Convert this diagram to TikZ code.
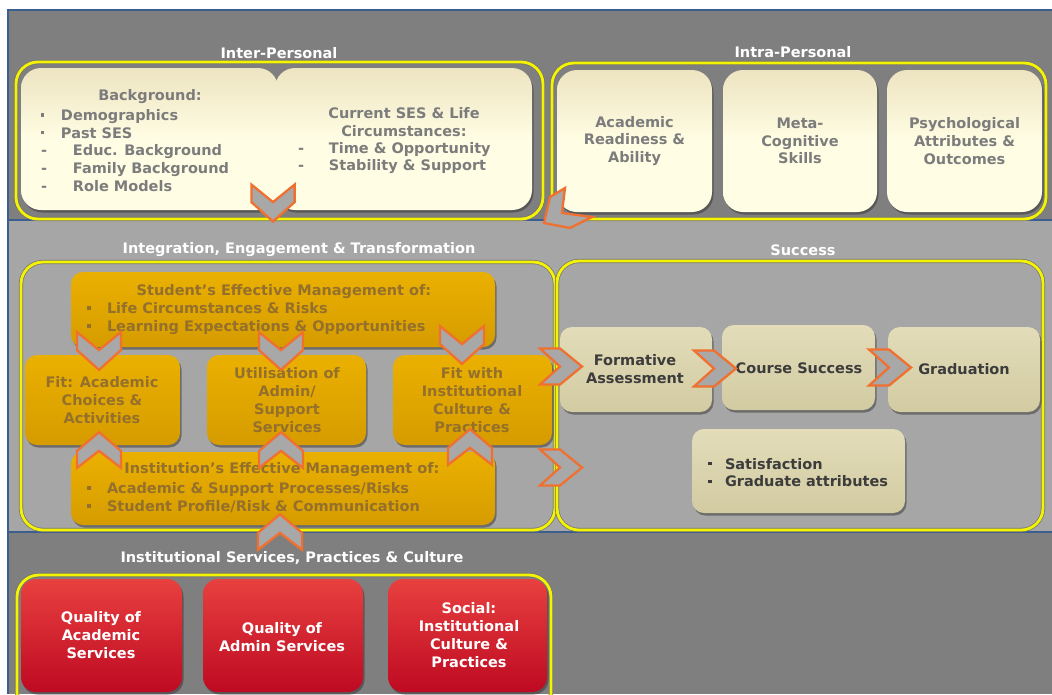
\documentclass[tikz,border=0pt]{standalone}
\usepackage{fontspec}
\setmainfont{DejaVu Sans}
\usetikzlibrary{shadows,calc}
\definecolor{bandD}{HTML}{7F7F7F}
\definecolor{bandL}{HTML}{A6A6A6}
\definecolor{bluel}{HTML}{3A5F8E}
\definecolor{ylw}{HTML}{F4F400}
\definecolor{creamT}{HTML}{EDE4C0}
\definecolor{creamB}{HTML}{FFFDE4}
\definecolor{creamTxt}{HTML}{7C7C7C}
\definecolor{goldT}{HTML}{EAB000}
\definecolor{goldB}{HTML}{D69C00}
\definecolor{goldTxt}{HTML}{94702C}
\definecolor{tanT}{HTML}{E2DCB9}
\definecolor{tanB}{HTML}{D2CBA2}
\definecolor{tanTxt}{HTML}{3C3C3C}
\definecolor{redT}{HTML}{E8403F}
\definecolor{redB}{HTML}{BE0A22}
\definecolor{chevO}{HTML}{F07030}
\definecolor{chevF}{HTML}{A8A8A8}
\newcommand\bul{\raisebox{0.25em}{\rule{3.5pt}{3.5pt}}}
\tikzset{
  every node/.style={inner sep=0pt, outer sep=0pt},
  txt/.style={font=\fontsize{14.5}{17.8}\selectfont\bfseries, align=center},
  ltxt/.style={font=\fontsize{14.5}{17.8}\selectfont\bfseries, align=left, anchor=west},
  ttl/.style={font=\fontsize{14.5}{16}\selectfont\bfseries, text=white},
  shadowed/.style={drop shadow={shadow xshift=1.5pt, shadow yshift=-2.5pt, opacity=0.5, fill=black!80}},
  box/.style={anchor=north west, shadowed},
  creambox/.style={box, rounded corners=20pt, top color=creamT, bottom color=creamB, middle color=creamB},
  goldbox/.style={box, rounded corners=12pt, top color=goldT, bottom color=goldB},
  tanbox/.style={box, rounded corners=12pt, top color=tanT, bottom color=tanB},
  redbox/.style={box, rounded corners=15pt, top color=redT, bottom color=redB},
  cont/.style={anchor=north west, draw=black!55, double=ylw, double distance=2.8pt, line width=0.7pt, rounded corners=22pt},
  chevline/.style={draw=chevO, fill=chevF, line width=2.3pt, line join=miter},
  chev/.pic={\path[chevline]
     (-21,-18) -- (-1,-18) -- (21,0) -- (-1,18) -- (-21,18) -- (-1,0) -- cycle;}
}
\begin{document}
\begin{tikzpicture}[x=1pt,y=-1pt]
\useasboundingbox (0,0) rectangle (1052,694);
\fill[white] (0,0) rectangle (1052,694);
% bands
\fill[bandD] (8,10) rectangle (1052,220);
\fill[bandL] (8,220) rectangle (1052,532);
\fill[bandD] (8,532) rectangle (1052,694);
\draw[bluel, line width=2pt] (8,694) -- (8,10) -- (1052,10);
\draw[bluel, line width=2pt] (8,220) -- (1052,220);
\draw[bluel, line width=2pt] (8,532) -- (1052,532);

% titles
\node[ttl] (tInter) at (279,53) {Inter-Personal};
\node[ttl] (tIntra) at (793,52) {Intra-Personal};
\node[ttl] (tInteg) at (299,250) {Integration, Engagement \& Transformation};
\node[ttl] (tSucc) at (803,250) {Success};
\node[ttl] (tInst) at (292,558) {Institutional Services, Practices \& Culture};

% containers
\node[cont, minimum width=527, minimum height=157] (cInter) at (16,62) {};
\node[cont, minimum width=494, minimum height=156] (cIntra) at (552,63) {};
\node[cont, minimum width=534, minimum height=268] (cInteg) at (21,262) {};
\node[cont, minimum width=486, minimum height=269] (cSucc) at (557,261) {};
\node[cont, minimum width=534, minimum height=140] (cInst) at (17,575) {};

% inter-personal
\node[creambox, minimum width=257, minimum height=142] (bg) at (21,68) {};
\node[creambox, minimum width=257, minimum height=142] (ses) at (275,68) {};
\node[txt, text=creamTxt] (bgT) at (150,97) {Background:};
\node[ltxt, text=creamTxt] (bgL) at (41,150.5) {%
\makebox[20pt][l]{\bul}Demographics\\
\makebox[20pt][l]{\bul}Past SES\\
\makebox[32pt][l]{-}Educ. Background\\
\makebox[32pt][l]{-}Family Background\\
\makebox[32pt][l]{-}Role Models};
\node[txt, text=creamTxt] (sesT) at (404,122) {Current SES \& Life\\Circumstances:};
\node[ltxt, text=creamTxt] (sesL) at (298,158) {%
\makebox[31pt][l]{-}Time \& Opportunity\\
\makebox[31pt][l]{-}Stability \& Support};

% intra-personal
\node[creambox, minimum width=155, minimum height=142] (ar) at (557,70) {};
\node[creambox, minimum width=154, minimum height=142] (mc) at (723,70) {};
\node[creambox, minimum width=155, minimum height=142] (ps) at (887,70) {};
\node[txt, text=creamTxt] (arT) at (ar.center) {Academic\\Readiness \&\\Ability};
\node[txt, text=creamTxt] (mcT) at (mc.center) {Meta-\\Cognitive\\Skills};
\node[txt, text=creamTxt] (psT) at (ps.center) {Psychological\\Attributes \&\\Outcomes};

% chevrons leaving the top band
\pic[rotate=-90, xscale=0.88, yscale=1.2] (chTop) at (273,203) {chev};
\path[chevline] (565,188) -- (550,197) -- (544,223) -- (570,228) -- (592,217) -- (562,213) -- cycle;

% integration
\node[goldbox, minimum width=424, minimum height=75] (stud) at (71,272) {};
\node[goldbox, minimum width=155, minimum height=90] (fitA) at (25,355) {};
\node[goldbox, minimum width=159, minimum height=90] (util) at (207,355) {};
\node[goldbox, minimum width=159, minimum height=90] (fitW) at (393,355) {};
\node[goldbox, minimum width=424, minimum height=73] (inst) at (71,452) {};
\node[txt, text=goldTxt] (studT) at (284,292) {Student's Effective Management of:};
\node[ltxt, text=goldTxt] (studL) at (87,318.5) {%
\makebox[20pt][l]{\bul}Life Circumstances \& Risks\\
\makebox[20pt][l]{\bul}Learning Expectations \& Opportunities};
\node[txt, text=goldTxt] (fitAT) at (102,400) {Fit: Academic\\Choices \&\\Activities};
\node[txt, text=goldTxt] (utilT) at (287,400) {Utilisation of\\Admin/\\Support\\Services};
\node[txt, text=goldTxt] (fitWT) at (472,400) {Fit with\\Institutional\\Culture \&\\Practices};
\node[txt, text=goldTxt] (instT) at (282,470) {Institution's Effective Management of:};
\node[ltxt, text=goldTxt] (instL) at (87,497.5) {%
\makebox[20pt][l]{\bul}Academic \& Support Processes/Risks\\
\makebox[20pt][l]{\bul}Student Profile/Risk \& Communication};

\pic[rotate=-90, xscale=0.9, yscale=1.22] (chD1) at (99,351) {chev};
\pic[rotate=-90, xscale=0.9, yscale=1.22] (chD2) at (281,351) {chev};
\pic[rotate=-90, xscale=0.9, yscale=1.22] (chD3) at (462,345) {chev};
\pic[rotate=90, xscale=0.85, yscale=1.22] (chU1) at (99,450) {chev};
\pic[rotate=90, xscale=0.85, yscale=1.22] (chU2) at (281,450) {chev};
\pic[rotate=90, xscale=0.85, yscale=1.22] (chU3) at (470,447) {chev};
\pic[rotate=90, xscale=0.85, yscale=1.22] (chU4) at (280,532) {chev};

% success
\node[tanbox, minimum width=152, minimum height=85] (form) at (560,327) {};
\node[tanbox, minimum width=153, minimum height=85] (course) at (722,325) {};
\node[tanbox, minimum width=152, minimum height=85] (grad) at (888,327) {};
\node[tanbox, minimum width=213, minimum height=84] (satis) at (692,429) {};
\node[txt, text=tanTxt] (formT) at (635,369) {Formative\\Assessment};
\node[txt, text=tanTxt] (courseT) at (799,368) {Course Success};
\node[txt, text=tanTxt] (gradT) at (964,369) {Graduation};
\node[ltxt, text=tanTxt] (satisL) at (708,472.5) {%
\makebox[17pt][l]{\bul}Satisfaction\\
\makebox[17pt][l]{\bul}Graduate attributes};

\pic (chR1) at (561,366.5) {chev};
\pic (chR2) at (561,467.5) {chev};
\pic (chR3) at ($(form.east)!0.5!(course.west)+(-2,0)$) {chev};
\pic (chR4) at (890,367.5) {chev};

% institutional services
\node[redbox, minimum width=161, minimum height=113] (qa) at (21,579) {};
\node[redbox, minimum width=160, minimum height=113] (qad) at (203,579) {};
\node[redbox, minimum width=159, minimum height=113] (soc) at (388,579) {};
\node[txt, text=white] (qaT) at (101,635) {Quality of\\Academic\\Services};
\node[txt, text=white] (qadT) at (282,637) {Quality of\\Admin Services};
\node[txt, text=white] (socT) at (469,635) {Social:\\Institutional\\Culture \&\\Practices};
\end{tikzpicture}
\end{document}
